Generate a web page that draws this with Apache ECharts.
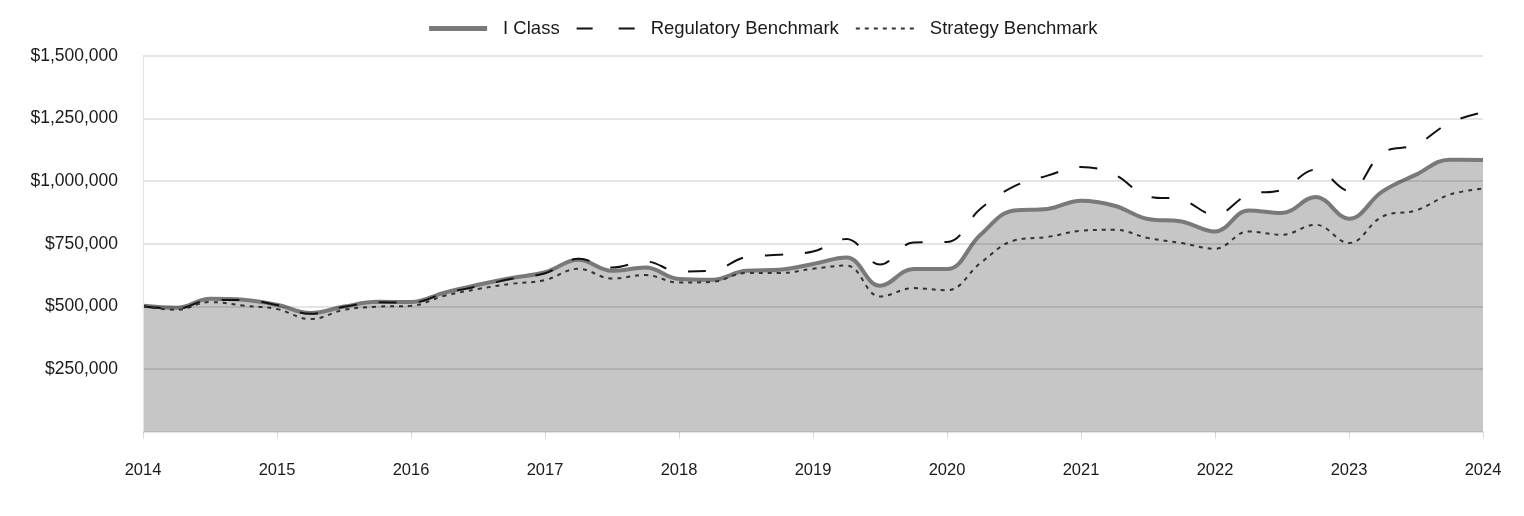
<!DOCTYPE html>
<html>
<head>
<meta charset="utf-8">
<script src="https://cdn.jsdelivr.net/npm/echarts@6/dist/echarts.min.js"></script>
<style>html,body{margin:0;padding:0;background:#fff}#c{width:1524px;height:516px}</style>
</head>
<body>
<div id="c"></div>
<script>
const quarters = [];
for (let i = 0; i <= 40; i++) quarters.push(2014 + i * 0.25);
const iClass = [502000,494000,530000,526000,506000,473000,499000,518000,517000,555000,586000,613000,636000,686000,642000,655000,609000,606000,642000,646000,669000,695000,582000,649000,649000,786000,883000,889000,922000,902000,849000,839000,799000,883000,873000,937000,850000,959000,1026000,1086000,1085000];
const regulatory = [500000,490000,525000,525000,505000,470000,498000,516000,515000,552000,580000,610000,632000,690000,655000,679000,639000,643000,697000,706000,719000,769000,667000,755000,757000,890000,979000,1022000,1057000,1026000,939000,926000,866000,946000,966000,1046000,962000,1113000,1146000,1233000,1275000];
const strategy = [500000,486000,517000,503000,489000,449000,486000,499000,502000,542000,569000,590000,605000,650000,611000,625000,595000,598000,633000,633000,650000,663000,539000,573000,564000,673000,763000,777000,802000,806000,773000,753000,730000,799000,786000,826000,753000,859000,883000,946000,970000];
const seriesNames = ['I Class', 'Regulatory Benchmark', 'Strategy Benchmark'];
const yearTicks = [2014,2015,2016,2017,2018,2019,2020,2021,2022,2023,2024];

const pair = arr => quarters.map((q, i) => [q, arr[i]]);
const font = 'Liberation Sans, Arial, sans-serif';
const chart = echarts.init(document.getElementById('c'));
chart.setOption({
  animation: false,
  backgroundColor: '#fff',
  legend: {
    top: 14, left: 'center', itemWidth: 58, itemHeight: 12, itemGap: 16,
    itemStyle: { opacity: 0 },
    textStyle: { fontFamily: font, fontSize: 18.5, color: '#1a1a1a', padding: [0, 0, 0, 11] },
    data: [
      { name: seriesNames[0], lineStyle: { width: 5, color: '#797979' } },
      { name: seriesNames[1], lineStyle: { width: 2, color: '#111', type: [16, 26] } },
      { name: seriesNames[2], lineStyle: { width: 2, color: '#333', type: [4, 5] } }
    ]
  },
  grid: { left: 143, right: 41, top: 56, bottom: 84.5, containLabel: false },
  xAxis: {
    type: 'value', min: 2014, max: 2024, interval: 1,
    axisLine: { show: true, lineStyle: { color: '#d9d9d9', width: 1 } },
    axisTick: { show: true, length: 7, lineStyle: { color: '#d9d9d9' } },
    axisLabel: { fontFamily: font, fontSize: 16.5, color: '#1a1a1a', margin: 30, formatter: v => String(Math.round(v)) },
    splitLine: { show: false }
  },
  yAxis: {
    type: 'value', min: 0, max: 1500000, interval: 250000, z: 5,
    axisLine: { show: true, lineStyle: { color: '#e3e3e3' } },
    axisTick: { show: false },
    axisLabel: { fontFamily: font, fontSize: 17.5, color: '#1a1a1a', margin: 25,
      formatter: v => v === 0 ? '' : '$' + v.toLocaleString('en-US') },
    splitLine: { show: true, lineStyle: { color: 'rgba(0,0,0,0.1)', width: 2 } }
  },
  series: [
    { name: seriesNames[0], type: 'line', data: pair(iClass), smooth: 0.4, showSymbol: false, symbol: 'none',
      lineStyle: { color: '#797979', width: 4 }, itemStyle: { color: '#797979' },
      areaStyle: { color: '#c6c6c6', opacity: 1 }, z: 2 },
    { name: seriesNames[1], type: 'line', data: pair(regulatory), smooth: 0.4, showSymbol: false, symbol: 'none',
      lineStyle: { color: '#111', width: 2, type: [18, 22] }, itemStyle: { color: '#111' }, z: 3 },
    { name: seriesNames[2], type: 'line', data: pair(strategy), smooth: 0.4, showSymbol: false, symbol: 'none',
      lineStyle: { color: '#333', width: 2, type: [4, 5] }, itemStyle: { color: '#333' }, z: 3 }
  ]
});
</script>
</body>
</html>
